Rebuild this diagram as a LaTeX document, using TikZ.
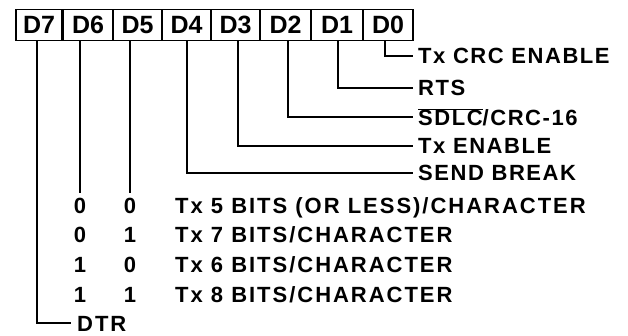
\documentclass[tikz,border=0pt]{standalone}
\usepackage{fontspec}
\setmainfont{Liberation Sans}
\begin{document}
\begin{tikzpicture}[x=1pt,y=-1pt,
  bitbox/.style={draw,line width=1.8pt,minimum height=31pt,inner sep=0pt,
    font=\fontsize{25}{25}\selectfont\bfseries},
  wire/.style={line width=2pt},
  lbl/.style={anchor=west,inner sep=0pt,
    font=\fontsize{22}{22}\selectfont\bfseries\addfontfeatures{LetterSpace=7}},
  rowtxt/.style={anchor=base west,inner sep=0pt,
    font=\fontsize{22}{22}\selectfont\bfseries\addfontfeatures{LetterSpace=9}},
  bit/.style={anchor=base,inner sep=0pt,font=\fontsize{22}{22}\selectfont\bfseries},
]
\useasboundingbox (0,0) rectangle (628,335);

% register boxes
\node[bitbox,minimum width=46pt] (d7) at (39,25) {D7};
\node[bitbox,minimum width=50pt] (d6) at (88,25) {D6};
\node[bitbox,minimum width=49pt] (d5) at (137.5,25) {D5};
\node[bitbox,minimum width=49pt] (d4) at (186.5,25) {D4};
\node[bitbox,minimum width=49pt] (d3) at (235.5,25) {D3};
\node[bitbox,minimum width=51pt] (d2) at (285.5,25) {D2};
\node[bitbox,minimum width=52pt] (d1) at (337,25) {D1};
\node[bitbox,minimum width=50pt] (d0) at (388,25) {D0};

% right labels
\node[lbl] (l0) at (418,56) {Tx CRC ENABLE};
\node[lbl] (l1) at (418,88) {RTS};
\node[lbl] (l2) at (418,117) {$\overline{\mbox{SDLC}}$/CRC-16};
\node[lbl] (l3) at (418,146) {Tx ENABLE};
\node[lbl] (l4) at (418,173) {SEND BREAK};

\draw[wire] ([xshift=-3pt]d0.south) |- ([xshift=-5pt]l0.west);
\draw[wire] ([xshift=1pt]d1.south) |- ([xshift=-5pt]l1.west);
\draw[wire] ([xshift=2.5pt]d2.south) |- ([xshift=-5pt]l2.west |- 0,117);
\draw[wire] ([xshift=2.5pt]d3.south) |- ([xshift=-5pt]l3.west);
\draw[wire] ([xshift=0.5pt]d4.south) |- ([xshift=-5pt]l4.west);

% character length table
\node[bit] (a1) at (80,213) {0};
\node[bit] (b1) at (130,213) {0};
\node[rowtxt] (t1) at (175,213) {Tx 5 BITS (OR LESS)/CHARACTER};
\node[bit] (a2) at (80,242) {0};
\node[bit] (b2) at (130,242) {1};
\node[rowtxt] (t2) at (175,242) {Tx 7 BITS/CHARACTER};
\node[bit] (a3) at (80,272) {1};
\node[bit] (b3) at (130,272) {0};
\node[rowtxt] (t3) at (175,272) {Tx 6 BITS/CHARACTER};
\node[bit] (a4) at (80,302) {1};
\node[bit] (b4) at (130,302) {1};
\node[rowtxt] (t4) at (175,302) {Tx 8 BITS/CHARACTER};

\draw[wire] (d6.south -| a1) -- ([yshift=4pt]a1.north);
\draw[wire] (d5.south -| b1) -- ([yshift=4pt]b1.north);

% DTR
\node[rowtxt] (dtr) at (77,331) {DTR};
\coordinate (c7) at (37,0);
\draw[wire] (d7.south -| c7) |- ([xshift=-6pt]dtr.west);
\end{tikzpicture}
\end{document}
